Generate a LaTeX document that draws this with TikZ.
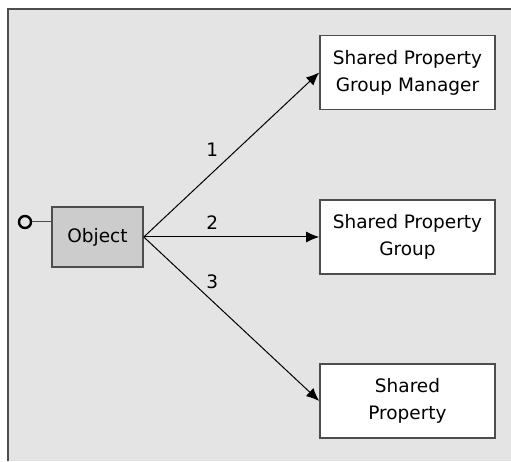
\documentclass[tikz,border=0pt]{standalone}
\usepackage{fontspec}
\setmainfont{DejaVu Sans}
\usepackage{tikz}
\usetikzlibrary{arrows.meta}
\definecolor{panelgray}{HTML}{E4E4E4}
\definecolor{objgray}{HTML}{CCCCCC}
\definecolor{edgegray}{HTML}{4D4D4D}
\tikzstyle{block} = [rectangle, draw=edgegray, line width=1.6pt, fill=white,
    align=center, minimum width=175pt, minimum height=74pt, inner sep=0pt]
\tikzstyle{obj} = [block, fill=objgray, minimum width=91pt, minimum height=60pt]
\tikzstyle{port} = [circle, draw=black, line width=2.4pt, minimum size=12pt, inner sep=0pt]
\tikzstyle{line} = [draw, line width=1pt, -{Latex[length=13pt, width=11pt]}]
\tikzstyle{num} = [inner sep=3pt]

\begin{document}
\begin{tikzpicture}[x=1pt, y=1pt, font=\fontsize{18.5}{27}\selectfont]
   % Panel
    \useasboundingbox (0,0) rectangle (511,461);
    \fill [panelgray] (8,0) rectangle (511,452);
    \draw [edgegray, line width=1.6pt] (8,0) -- (8,452) -- (511,452);
   % Place nodes
    \node [obj] (object) at (97.5,224) {Object};
    \node [port] (port) at (25,239) {};
    \node [block, right of=object, node distance=310pt] (group) {Shared Property\\Group};
    \node [block, above of=group, node distance=164.5pt] (manager) {Shared Property\\Group Manager};
    \node [block, below of=group, node distance=164pt] (property) {Shared\\Property};
   % Draw edges
    \draw [edgegray, line width=1pt] (port) -- (port -| object.west);
    \path [line] (object.east) -- (manager.west)
    node [num, pos=0.39, above=13pt] {1};
    \path [line] (object.east) -- (group.west)
    node [num, pos=0.39, above=4pt] {2};
    \path [line] (object.east) -- (property.west)
    node [num, pos=0.39, above=9pt] {3};
  \end{tikzpicture}
\end{document}
